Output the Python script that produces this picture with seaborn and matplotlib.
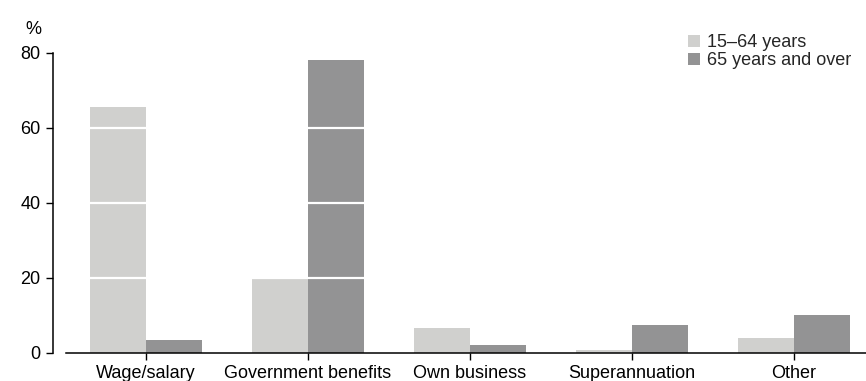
import matplotlib
matplotlib.use("Agg")
import matplotlib.pyplot as plt
import matplotlib.patches as mpatches
import seaborn as sns
import pandas as pd

# Main source of personal income, by age group (%)
categories = ["Wage/salary", "Government benefits", "Own business", "Superannuation", "Other"]
age_groups = ["15\u201364 years", "65 years and over"]
working_age = [65.5, 19.6, 6.7, 0.8, 4.0]
older = [3.4, 78.0, 2.0, 7.4, 10.0]
y_ticks = [0, 20, 40, 60, 80]

colors = ["#d0d0ce", "#939394"]

df = pd.DataFrame({
    "source": categories * 2,
    "group": [age_groups[0]] * len(categories) + [age_groups[1]] * len(categories),
    "pct": working_age + older,
})

sns.set_theme(style="white")
plt.rcParams["font.family"] = ["Liberation Sans", "DejaVu Sans"]

W, H = 866, 381
fig = plt.figure(figsize=(W / 100, H / 100), dpi=100)
ax = fig.add_axes([66 / W, (H - 352.7) / H, (W - 66) / W, 300 / H])

sns.barplot(data=df, x="source", y="pct", hue="group", palette=colors,
            width=0.69, saturation=1, ax=ax, legend=False)
for p in ax.patches:
    p.set_edgecolor("none")

ax.set_ylim(0, 80)
ax.set_xlim(-0.494, 4.444)
ax.set_yticks(y_ticks)
ax.set_xlabel("")
ax.set_ylabel("")

# white reference lines running across the bars
for v in y_ticks[1:-1]:
    ax.axhline(v, color="white", lw=1.6, zorder=5)

for s in ["top", "right"]:
    ax.spines[s].set_visible(False)
ax.spines["left"].set_position(("outward", 9.4))
for s in ["left", "bottom"]:
    ax.spines[s].set_color("black")
    ax.spines[s].set_linewidth(1.1)

ax.tick_params(axis="y", length=5, width=1.0, color="black", pad=4,
               labelsize=13, labelcolor="black", left=True)
ax.tick_params(axis="x", length=5, width=1.0, color="black", pad=3.5,
               labelsize=13, labelcolor="black", bottom=True)

fig.text(33 / W, 1 - 29 / H, "%", ha="center", va="center", fontsize=13, color="black")

handles = [mpatches.Patch(facecolor=c, edgecolor="none", label=l) for c, l in zip(colors, age_groups)]
fig.legend(handles=handles, loc="upper left", bbox_to_anchor=(688 / W, 1 - 34 / H),
           frameon=False, fontsize=13, handlelength=0.65, handleheight=0.65,
           handletextpad=0.4, labelspacing=0.05, borderaxespad=0, borderpad=0)

fig.savefig("out.png", dpi=100)
